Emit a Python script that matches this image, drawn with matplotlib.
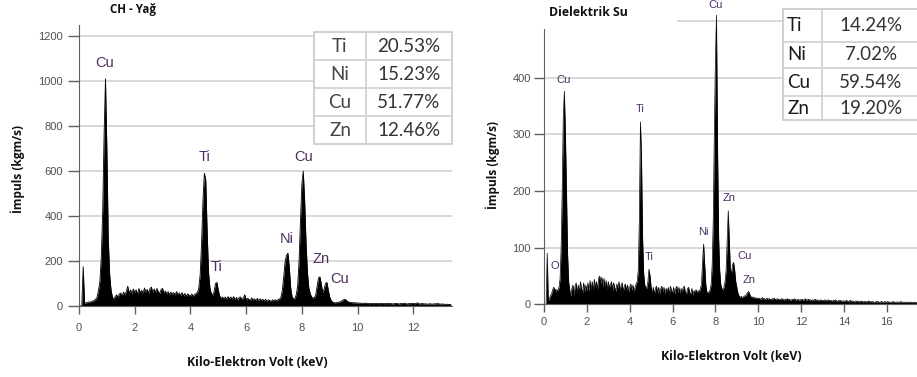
import matplotlib
matplotlib.use('Agg')
import matplotlib.pyplot as plt
import numpy as np
from matplotlib.patches import Rectangle

# EDS spectra, one row per keV, 0.05 keV per channel
STEP = 0.05
counts_yag = [
    0, 0, 0, 175, 12, 15, 14, 18, 17, 20, 22, 25, 30, 40, 70, 110, 220, 420, 760, 1010,
    700, 300, 140, 70, 40, 30, 42, 50, 38, 54, 58, 44, 62, 48, 66, 88, 56, 72, 54, 76,
    60, 72, 52, 78, 58, 70, 55, 80, 60, 74, 56, 78, 84, 58, 76, 60, 78, 62, 56, 74,
    78, 58, 66, 54, 64, 50, 62, 52, 60, 48, 64, 50, 58, 46, 60, 44, 56, 42, 54, 48,
    44, 54, 42, 52, 55, 60, 80, 140, 280, 470, 590, 560, 330, 150, 80, 55, 48, 65, 100, 105,
    70, 45, 34, 40, 32, 40, 30, 42, 32, 40, 30, 42, 28, 38, 26, 38, 40, 28, 36, 50,
    28, 34, 30, 24, 36, 26, 32, 24, 34, 22, 32, 24, 30, 22, 30, 20, 28, 24, 20, 28,
    22, 28, 22, 30, 30, 40, 70, 130, 200, 225, 235, 170, 80, 40, 30, 35, 50, 90, 200, 380,
    540, 600, 470, 280, 150, 80, 55, 40, 35, 38, 50, 90, 125, 130, 95, 60, 75, 100, 105, 70,
    40, 25, 18, 15, 14, 15, 16, 18, 20, 24, 28, 30, 25, 20, 17, 16, 15, 14, 15, 13,
    14, 12, 13, 11, 12, 13, 11, 12, 10, 11, 12, 10, 11, 12, 10, 11, 10, 12, 11, 10,
    11, 10, 12, 10, 11, 9, 10, 11, 12, 10, 9, 11, 10, 12, 11, 10, 9, 11, 10, 12,
    11, 10, 12, 14, 10, 9, 11, 10, 9, 10, 8, 9, 10, 9, 8, 10, 9, 11, 10, 9,
    8, 9, 8, 7, 8, 7, 7, 6,
]
counts_su = [
    0, 0, 0, 90, 6, 10, 15, 18, 25, 30, 28, 22, 26, 24, 30, 45, 100, 200, 330, 376,
    300, 200, 90, 40, 25, 14, 28, 34, 16, 32, 38, 20, 34, 22, 40, 28, 20, 38, 22, 34,
    24, 38, 22, 42, 26, 40, 24, 44, 28, 40, 26, 46, 50, 36, 48, 30, 46, 30, 42, 26,
    40, 30, 34, 40, 24, 38, 30, 22, 36, 28, 40, 24, 34, 38, 22, 32, 36, 24, 34, 22,
    30, 36, 24, 34, 22, 30, 36, 40, 60, 150, 322, 260, 120, 55, 35, 30, 28, 40, 62, 50,
    30, 20, 30, 18, 28, 32, 20, 30, 18, 28, 32, 22, 30, 18, 28, 22, 30, 18, 32, 24,
    20, 30, 18, 28, 32, 20, 30, 18, 28, 22, 30, 32, 20, 18, 28, 30, 20, 18, 28, 16,
    24, 22, 26, 20, 24, 22, 28, 35, 75, 106, 70, 35, 22, 20, 22, 25, 35, 70, 150, 300,
    430, 510, 280, 120, 60, 35, 28, 25, 30, 40, 60, 110, 165, 110, 60, 55, 70, 74, 60, 40,
    30, 20, 15, 12, 14, 12, 13, 15, 14, 18, 20, 23, 18, 14, 12, 13, 11, 12, 10, 11,
    10, 11, 9, 10, 12, 9, 10, 8, 11, 9, 10, 9, 8, 10, 9, 11, 8, 9, 10, 8,
    9, 8, 10, 9, 7, 9, 8, 10, 8, 9, 7, 8, 9, 8, 10, 7, 8, 9, 7, 8,
    8, 9, 7, 8, 10, 7, 8, 9, 7, 8, 6, 8, 7, 9, 7, 8, 6, 7, 8, 7,
    7, 6, 8, 7, 6, 8, 7, 6, 7, 5, 7, 6, 8, 6, 5, 7, 6, 7, 5, 6,
    6, 5, 7, 6, 5, 6, 7, 5, 6, 5, 4, 6, 5, 6, 4, 5, 6, 5, 4, 5,
    5, 4, 5, 6, 4, 5, 4, 5, 3, 4, 5, 4, 5, 3, 4, 5, 4, 3, 5, 4,
    4, 5, 3, 4, 4, 3, 5, 4, 3, 4, 4, 3, 4, 5, 3, 4, 3, 4, 3, 4,
    3, 4, 3, 4, 3, 3, 4, 3, 3,
]

# peak labels
peaks_yag = ['Cu', 'Ti', 'Ti', 'Ni', 'Cu', 'Zn', 'Cu']
peaks_yag_x = [0.91, 4.52, 4.94, 7.45, 8.05, 8.69, 9.37]
peaks_yag_y = [1079, 661, 175, 298, 664, 208, 120]
peaks_su = ['O', 'Cu', 'Ti', 'Ti', 'Ni', 'Cu', 'Zn', 'Cu', 'Zn']
peaks_su_x = [0.50, 0.90, 4.48, 4.92, 7.44, 8.03, 8.62, 9.38, 9.56]
peaks_su_y = [68, 396, 344, 83, 127, 528, 187, 85, 43]

# composition tables
elements = ['Ti', 'Ni', 'Cu', 'Zn']
pct_yag = ['20.53%', '15.23%', '51.77%', '12.46%']
pct_su = ['14.24%', '7.02%', '59.54%', '19.20%']

W, H = 917, 377
PURPLE = '#4e2d62'
GRID = '#d2d2d2'
SPINE = '#606060'
TICKC = '#505050'


def fx(px):
    return px / W


def fy(py):
    return 1 - py / H


fig = plt.figure(figsize=(W / 100, H / 100), dpi=100)

# ---------- left: CH - Yag
ax1 = fig.add_axes([fx(79), fy(306), 373 / W, 281 / H])
e1 = np.arange(len(counts_yag)) * STEP
ax1.set_xlim(0, 13.39)
ax1.set_ylim(0, 1249)
ax1.hlines([200, 400, 600, 800, 1000, 1200], 0, 13.39, color=GRID, lw=1.2, zorder=0)
ax1.fill_between(e1, counts_yag, 0, color='black', lw=0, zorder=2)
ax1.plot(e1, counts_yag, color='black', lw=0.6, zorder=2)
for lab, x, y in zip(peaks_yag, peaks_yag_x, peaks_yag_y):
    ax1.text(x, y, lab, color=PURPLE, fontsize=10.5, ha='center', va='center',
             family='Liberation Sans', zorder=3)
ax1.set_xticks(range(0, 13, 2))
ax1.set_yticks(range(0, 1201, 200))
ax1.tick_params(axis='x', length=6, pad=6.5)
ax1.tick_params(axis='y', length=8, pad=3.5)

# ---------- right: Dielektrik Su
ax2 = fig.add_axes([fx(544), fy(304.3), 373 / W, 304.3 / H])
e2 = np.arange(len(counts_su)) * STEP
ax2.set_xlim(0, 17.41)
ax2.set_ylim(0, 537)
ax2.hlines([100, 200, 300, 400], 0, 17.41, color=GRID, lw=1.2, zorder=0)
ax2.hlines([500], 6.2, 17.41, color=GRID, lw=1.2, zorder=0)
ax2.fill_between(e2, counts_su, 0, color='black', lw=0, zorder=2)
ax2.plot(e2, counts_su, color='black', lw=0.5, zorder=2)
for lab, x, y in zip(peaks_su, peaks_su_x, peaks_su_y):
    ax2.text(x, y, lab, color=PURPLE, fontsize=8, ha='center', va='center',
             family='Liberation Sans', zorder=3, clip_on=False)
ax2.set_xticks(range(0, 17, 2))
ax2.set_yticks(range(0, 401, 100))
ax2.tick_params(axis='x', length=6, pad=3.5)
ax2.tick_params(axis='y', length=7.5, pad=2)
ax2.spines['left'].set_bounds(0, 486)
for lbl in ax2.get_yticklabels():
    if lbl.get_text() == '300':
        lbl.set_fontsize(6)

for ax in (ax1, ax2):
    ax.patch.set_alpha(0)
    ax.spines['top'].set_visible(False)
    ax.spines['right'].set_visible(False)
    ax.spines['left'].set_color(SPINE)
    ax.spines['bottom'].set_color(SPINE)
    ax.tick_params(axis='both', direction='out', color=SPINE, width=1,
                   labelsize=8, labelcolor=TICKC)
    for lbl in ax.get_xticklabels() + ax.get_yticklabels():
        lbl.set_family('Liberation Sans')

# ---------- titles and axis labels
bold = dict(family='Open Sans', weight='bold', color='#111111')
fig.text(fx(133), fy(10), 'CH - Yağ', fontsize=8.3, ha='center', va='center', **bold)
fig.text(fx(588), fy(13), 'Dielektrik Su', fontsize=8.8, ha='center', va='center', **bold)
fig.text(fx(257), fy(362), 'Kilo-Elektron Volt (keV)', fontsize=8.8, ha='center', va='center', **bold)
fig.text(fx(731), fy(357), 'Kilo-Elektron Volt (keV)', fontsize=8.8, ha='center', va='center', **bold)
fig.text(fx(18), fy(169), 'İmpuls (kgm/s)', fontsize=8.6, rotation=90, ha='center', va='center', **bold)
fig.text(fx(493), fy(165), 'İmpuls (kgm/s)', fontsize=8.6, rotation=90, ha='center', va='center', **bold)

# ---------- composition tables (pixel overlay)
ov = fig.add_axes([0, 0, 1, 1], zorder=5)
ov.set_xlim(0, W)
ov.set_ylim(H, 0)
ov.axis('off')


def draw_table(x0, x1, xdiv, rows, names, vals, name_x, name_ha, val_x, name_color):
    ov.add_patch(Rectangle((x0, rows[0]), x1 - x0, rows[-1] - rows[0],
                           facecolor='white', edgecolor='#c8c8c8', lw=1.2))
    ov.plot([xdiv, xdiv], [rows[0], rows[-1]], color='#d0d0d0', lw=1.2)
    for r in rows[1:-1]:
        ov.plot([x0, x1], [r, r], color='#d0d0d0', lw=1.2)
    for i in range(len(names)):
        yc = (rows[i] + rows[i + 1]) / 2
        ov.text(name_x, yc, names[i], fontsize=13.5, ha=name_ha, va='center',
                family='Lato', color=name_color)
        ov.text(val_x, yc, vals[i], fontsize=13.5, ha='center', va='center',
                family='Lato', color='#333333')


draw_table(314, 452, 366, [32, 60, 88, 116, 144], elements, pct_yag, 340, 'center', 409, '#444444')
draw_table(783, 930, 822, [9, 42, 68, 96, 120], elements, pct_su, 787, 'left', 871, '#1a1a1a')

fig.savefig('out.png', dpi=100)
